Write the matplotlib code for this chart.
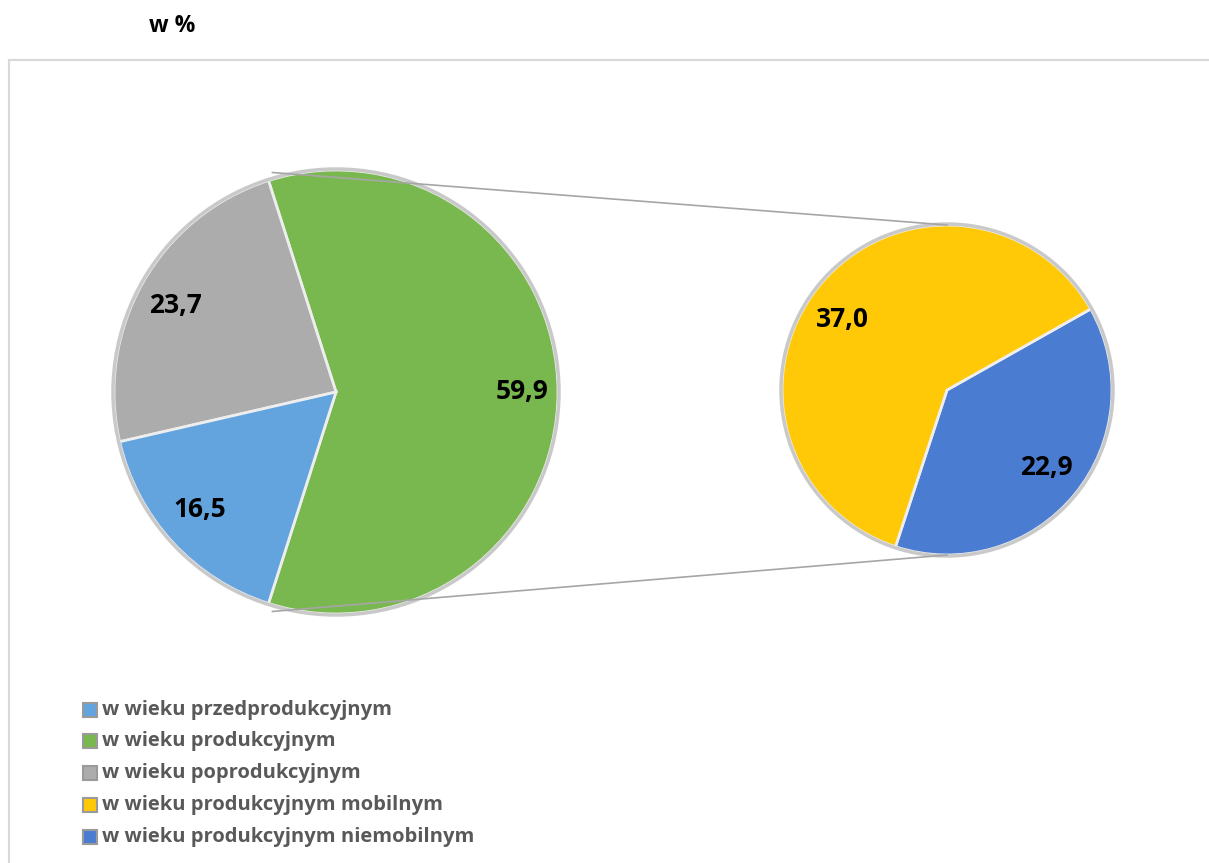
import matplotlib
matplotlib.use("Agg")
import matplotlib.pyplot as plt
from matplotlib.patches import Rectangle, Circle
import numpy as np

plt.rcParams['font.family'] = ['Open Sans', 'DejaVu Sans']

# Data
main_labels = ["w wieku produkcyjnym", "w wieku poprodukcyjnym", "w wieku przedprodukcyjnym"]
main_values = [59.9, 23.7, 16.5]
main_colors = ["#78b84e", "#acacac", "#63a4df"]
main_text = ["59,9", "23,7", "16,5"]

sub_labels = ["w wieku produkcyjnym niemobilnym", "w wieku produkcyjnym mobilnym"]
sub_values = [22.9, 37.0]
sub_colors = ["#4a7dd2", "#ffc907"]
sub_text = ["22,9", "37,0"]

legend_labels = ["w wieku przedprodukcyjnym", "w wieku produkcyjnym", "w wieku poprodukcyjnym",
                 "w wieku produkcyjnym mobilnym", "w wieku produkcyjnym niemobilnym"]
legend_colors = ["#63a4df", "#78b84e", "#acacac", "#ffc907", "#4a7dd2"]

W, H = 1209, 863
fig = plt.figure(figsize=(W / 100, H / 100), dpi=100)
ax = fig.add_axes([0, 0, 1, 1])

def Y(y):
    return H - y

# left pie
c1 = (336, Y(392)); r1 = 222
tot1 = sum(main_values)
start1 = -main_values[0] / tot1 * 360 / 2
w1, t1 = ax.pie(main_values, colors=main_colors, startangle=start1, counterclock=True,
                center=c1, radius=r1, frame=True,
                wedgeprops=dict(edgecolor="#eeeeee", linewidth=2))
ax.add_patch(Circle(c1, r1 + 1, fill=False, edgecolor="#c9c9c9", linewidth=2.5))

# right pie
c2 = (947, Y(390)); r2 = 165
start2 = -108.2
w2, t2 = ax.pie(sub_values, colors=sub_colors, startangle=start2, counterclock=True,
                center=c2, radius=r2, frame=True,
                wedgeprops=dict(edgecolor="#eeeeee", linewidth=2))
ax.add_patch(Circle(c2, r2 + 1, fill=False, edgecolor="#c9c9c9", linewidth=2.5))

# connector lines
a = np.deg2rad(-start1)
ax.plot([c1[0] + r1 * np.cos(a) + 4, c2[0]], [c1[1] + r1 * np.sin(a) + 8, c2[1] + r2], color="#a6a6a6", lw=1.2)
ax.plot([c1[0] + r1 * np.cos(a) + 4, c2[0]], [c1[1] - r1 * np.sin(a) - 8, c2[1] - r2], color="#a6a6a6", lw=1.2)

# labels
lab_pos_main = [(522, 392), (175, 306), (200, 510)]
for txt, (x, y) in zip(main_text, lab_pos_main):
    ax.text(x, Y(y), txt, ha="center", va="center", fontsize=19, fontweight="bold", color="black")
lab_pos_sub = [(1046, 468), (842, 320)]
for txt, (x, y) in zip(sub_text, lab_pos_sub):
    ax.text(x, Y(y), txt, ha="center", va="center", fontsize=19, fontweight="bold", color="black")

# frame (top and left lines)
ax.plot([9, W], [Y(60), Y(60)], color="#d9d9d9", lw=1.5)
ax.plot([9, 9], [Y(60), 0], color="#d9d9d9", lw=1.5)

# title
ax.text(172, Y(26), "w %", ha="center", va="center", fontsize=16.5, fontweight="bold", color="black")

# legend
ys = [710, 741, 773, 805, 837]
for lab, col, y in zip(legend_labels, legend_colors, ys):
    ax.add_patch(Rectangle((83, Y(y) - 7), 14, 14, facecolor=col, edgecolor="#9a9a9a", linewidth=1.5))
    ax.text(102, Y(y), lab, ha="left", va="center", fontsize=14.5, fontweight="bold", color="#595959")

ax.set_xlim(0, W)
ax.set_ylim(0, H)
ax.set_aspect("auto")
ax.axis("off")

fig.savefig("out.png", dpi=100)
